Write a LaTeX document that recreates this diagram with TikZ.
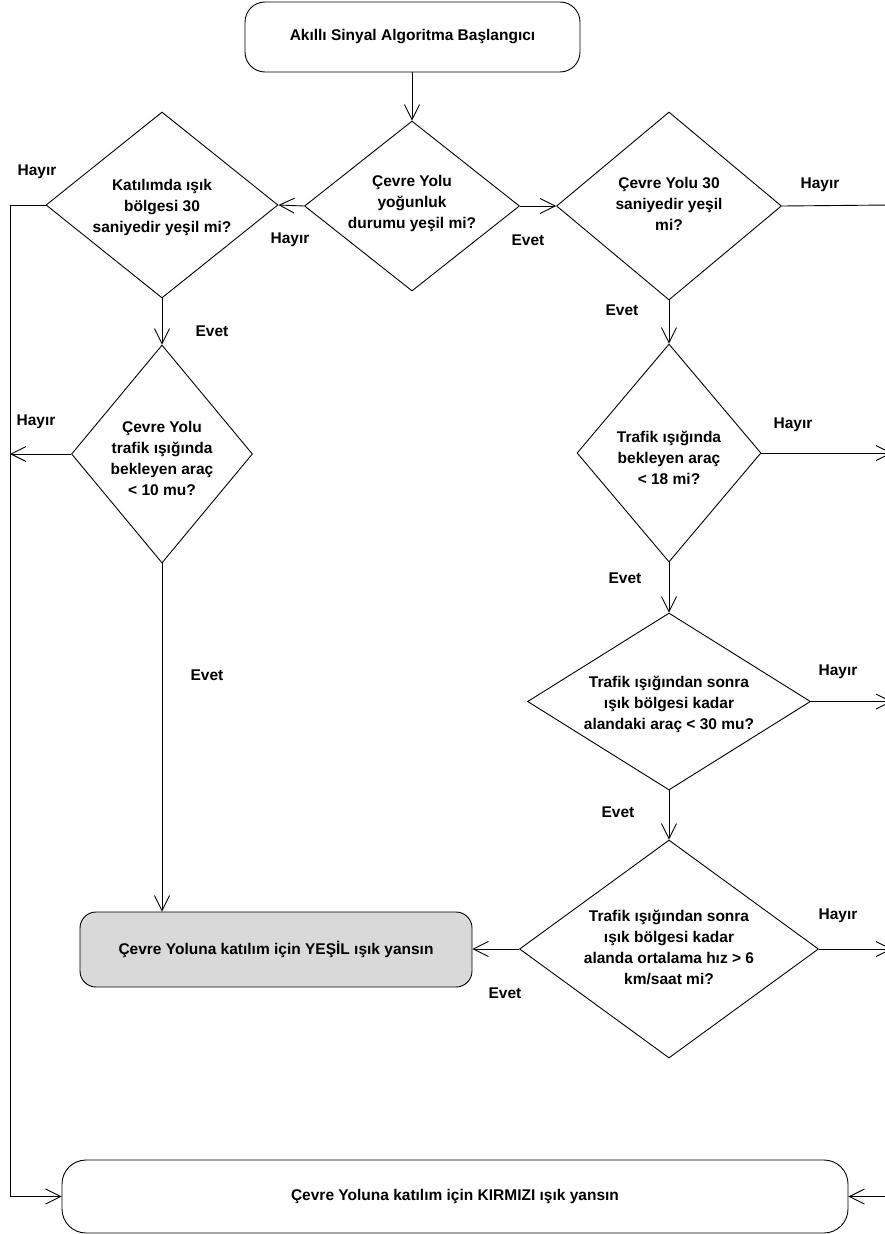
\documentclass[tikz,border=0pt]{standalone}
\usepackage{fontspec}
\setmainfont{Liberation Sans}
\usetikzlibrary{shapes.geometric,arrows.meta}
\definecolor{boxgray}{RGB}{217,217,217}
\begin{document}
\begin{tikzpicture}[x=1pt,y=-1pt,
  every node/.style={font=\bfseries\fontsize{15.5}{21}\selectfont},
  dia/.style={diamond,draw,line width=0.9pt,inner sep=0pt},
  rbox/.style={rectangle,draw,line width=0.9pt,rounded corners=#1,inner sep=0pt},
  txt/.style={align=center,inner sep=0pt},
  lbl/.style={inner sep=0pt},
  flow/.style={draw,line width=0.9pt},
  arr/.style={flow,-{Straight Barb[length=15pt,width=15pt,line width=0.9pt]}}
]
\clip (0,0) rectangle (885,1234);
\useasboundingbox (0,0) rectangle (885,1234);

% terminals / boxes
\node[rbox=20pt,minimum width=335,minimum height=70] (start) at (412.5,37) {Akıllı Sinyal Algoritma Başlangıcı};
\node[rbox=16pt,fill=boxgray,minimum width=392,minimum height=75] (green) at (276,949.5) {Çevre Yoluna katılım için YEŞİL ışık yansın};
\node[rbox=24pt,minimum width=786,minimum height=73] (red) at (455,1196.5) {Çevre Yoluna katılım için KIRMIZI ışık yansın};

% decisions
\node[dia,minimum width=215,minimum height=170] (d1) at (412,206) {};
\node[txt] (t1) at (412,203) {Çevre Yolu\\yoğunluk\\durumu yeşil mi?};

\node[dia,minimum width=232,minimum height=186] (d2) at (162,205) {};
\node[txt] (t2) at (162,207) {Katılımda ışık\\bölgesi 30\\saniyedir yeşil mi?};

\node[dia,minimum width=225,minimum height=188] (d3) at (669,206) {};
\node[txt] (t3) at (669,204) {Çevre Yolu 30\\saniyedir yeşil\\mi?};

\node[dia,minimum width=181,minimum height=218] (d4) at (162,454) {};
\node[txt] (t4) at (162,458) {Çevre Yolu\\trafik ışığında\\bekleyen araç\\< 10 mu?};

\node[dia,minimum width=184,minimum height=218] (d5) at (669,453) {};
\node[txt] (t5) at (669,458) {Trafik ışığında\\bekleyen araç\\< 18 mi?};

\node[dia,minimum width=283,minimum height=177] (d6) at (669,701.5) {};
\node[txt] (t6) at (669,704) {Trafik ışığından sonra\\ışık bölgesi kadar\\alandaki araç < 30 mu?};

\node[dia,minimum width=299,minimum height=218] (d7) at (669,949) {};
\node[txt] (t7) at (669,947) {Trafik ışığından sonra\\ışık bölgesi kadar\\alanda ortalama hız > 6\\km/saat mi?};

% free ends at the right edge and on the left bus
\coordinate (r1) at (890,205);
\coordinate (r5) at (892,453);
\coordinate (r6) at (892,701.5);
\coordinate (r7) at (892,949);
\coordinate (r8) at (892,1196.5);
\coordinate (lb) at (10,205);
\coordinate (lb4) at (10,454);
\coordinate (lbot) at (10,1196.5);

% connectors
\path[arr] (start.south -| d1.north) -- (d1.north);
\path[arr] (d1.west) -- (d2.east);
\path[arr] (d1.east) -- (d3.west);
\path[flow] (d3.east) -- (r1);
\path[flow] (d2.west) -- (lb) -- (lbot);
\path[arr] (lbot) -- (red.west);
\path[arr] (d2.south) -- (d4.north);
\path[arr] (d4.west) -- (lb4);
\path[arr] (d4.south) -- (d4.south |- green.north);
\path[arr] (d3.south) -- (d5.north);
\path[arr] (d5.east) -- (r5);
\path[arr] (d5.south) -- (d6.north);
\path[arr] (d6.east) -- (r6);
\path[arr] (d6.south) -- (d7.north);
\path[arr] (d7.east) -- (r7);
\path[arr] (d7.west) -- (green.east |- d7.west);
\path[arr] (r8) -- (red.east);

% edge labels
\node[lbl] (h1) at (37,172) {Hayır};
\node[lbl] (h2) at (290,240) {Hayır};
\node[lbl] (e1) at (528,240) {Evet};
\node[lbl] (h3) at (820,185) {Hayır};
\node[lbl] (e2) at (212,331) {Evet};
\node[lbl] (h4) at (36,422) {Hayır};
\node[lbl] (e3) at (207,675) {Evet};
\node[lbl] (e4) at (622,310) {Evet};
\node[lbl] (h5) at (793,425) {Hayır};
\node[lbl] (e5) at (625,578) {Evet};
\node[lbl] (h6) at (838,672) {Hayır};
\node[lbl] (e6) at (618,812) {Evet};
\node[lbl] (h7) at (838,916) {Hayır};
\node[lbl] (e7) at (505,993) {Evet};
\end{tikzpicture}
\end{document}
